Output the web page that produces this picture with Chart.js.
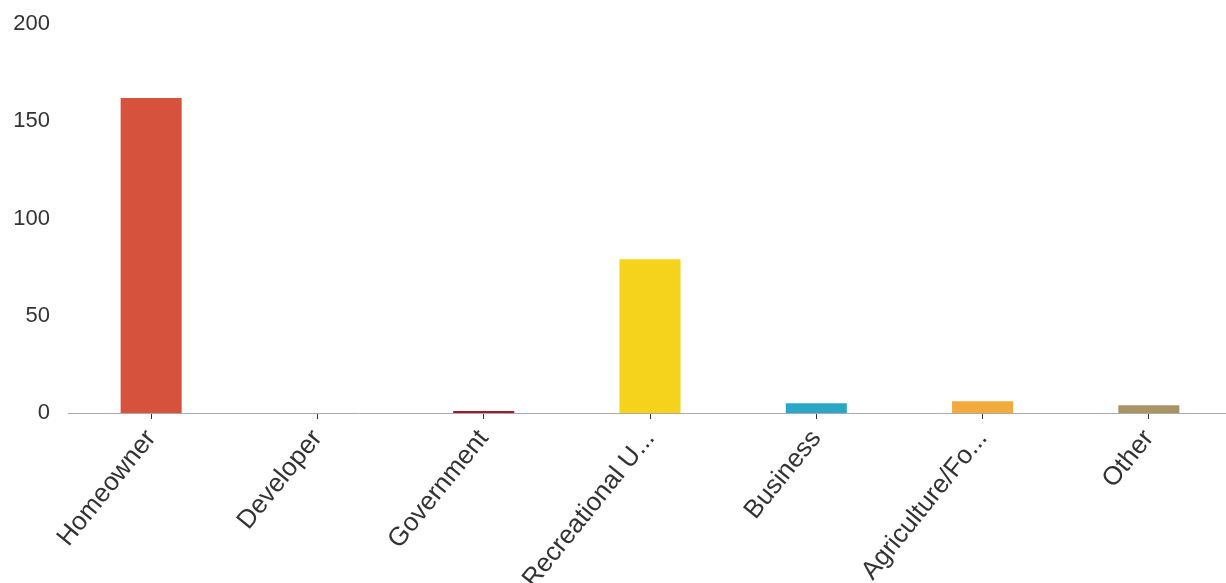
<!DOCTYPE html>
<html>
<head>
<meta charset="utf-8">
<script src="https://cdn.jsdelivr.net/npm/chart.js@4"></script>
<style>
  html, body { margin: 0; padding: 0; background: #fff; overflow: hidden; }
  #wrap { width: 1236px; height: 583px; }
</style>
</head>
<body>
<div id="wrap"><canvas id="chart"></canvas></div>
<script>
'use strict';

// ── Data ───────────────────────────────────────────────────────
const categories = ['Homeowner', 'Developer', 'Government', 'Recreational U...', 'Business', 'Agriculture/Fo...', 'Other'];
const counts = [162, 0, 1, 79, 5, 6, 4];
const barColors = ['#d6523d', '#c0392b', '#a3192f', '#f5d21c', '#2aa7c6', '#f2aa3c', '#a89466'];
const yTicks = [0, 50, 100, 150, 200];

const FONT = "'Liberation Sans', Arial, sans-serif";

new Chart(document.getElementById('chart'), {
  type: 'bar',
  data: {
    labels: categories,
    datasets: [{
      data: counts,
      backgroundColor: barColors,
      borderWidth: 0,
      categoryPercentage: 1,
      barPercentage: 0.367
    }]
  },
  options: {
    responsive: true,
    maintainAspectRatio: false,
    animation: false,
    layout: { padding: { top: 24, right: 4, left: 0, bottom: 0 } },
    plugins: { legend: { display: false }, tooltip: { enabled: false } },
    scales: {
      x: {
        grid: { display: true, drawOnChartArea: false, drawTicks: true, tickLength: 6, color: '#333', offset: false },
        border: { display: true, color: '#aaa', width: 1 },
        ticks: {
          color: '#333',
          font: { family: FONT, size: 26 },
          minRotation: 51,
          maxRotation: 51,
          autoSkip: false,
          padding: 5
        },
        afterFit: (scale) => {
          scale.height = 170;
          scale.paddingLeft = 0;
          scale.paddingRight = 0;
        }
      },
      y: {
        min: 0,
        max: 200,
        afterBuildTicks: (scale) => { scale.ticks = yTicks.map(v => ({ value: v })); },
        afterFit: (scale) => {
          scale.width = 68;
          scale.paddingTop = 0;
          scale.paddingBottom = 0;
        },
        grid: { display: false, drawTicks: false },
        border: { display: false },
        ticks: {
          color: '#333',
          font: { family: FONT, size: 22 },
          padding: 18
        }
      }
    }
  }
});
</script>
</body>
</html>
